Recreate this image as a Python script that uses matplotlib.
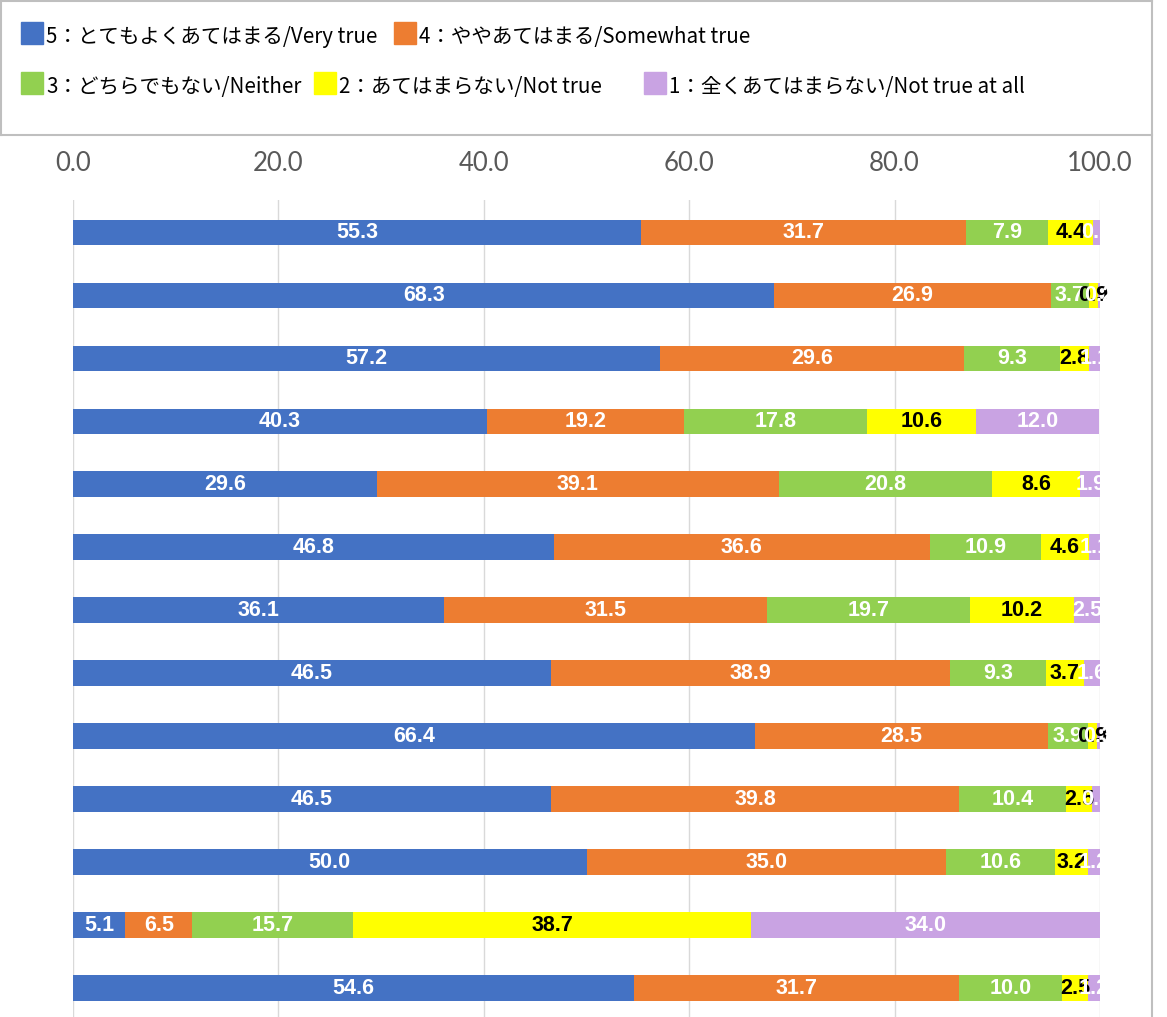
import matplotlib
matplotlib.use('Agg')
import matplotlib.pyplot as plt
from matplotlib.patches import Rectangle
from matplotlib.lines import Line2D
import numpy as np

plt.rcParams['font.family'] = ['Noto Sans CJK JP', 'DejaVu Sans']

# data (percent), one list per response level, rows top to bottom
series_names = [
    '5：とてもよくあてはまる/Very true',
    '4：ややあてはまる/Somewhat true',
    '3：どちらでもない/Neither',
    '2：あてはまらない/Not true',
    '1：全くあてはまらない/Not true at all',
]
very_true = [55.3, 68.3, 57.2, 40.3, 29.6, 46.8, 36.1, 46.5, 66.4, 46.5, 50.0, 5.1, 54.6]
somewhat_true = [31.7, 26.9, 29.6, 19.2, 39.1, 36.6, 31.5, 38.9, 28.5, 39.8, 35.0, 6.5, 31.7]
neither = [7.9, 3.7, 9.3, 17.8, 20.8, 10.9, 19.7, 9.3, 3.9, 10.4, 10.6, 15.7, 10.0]
not_true = [4.4, 0.9, 2.8, 10.6, 8.6, 4.6, 10.2, 3.7, 0.9, 2.5, 3.2, 38.7, 2.5]
not_true_at_all = [0.7, 0.2, 1.1, 12.0, 1.9, 1.1, 2.5, 1.6, 0.3, 0.8, 1.2, 34.0, 1.2]
x_ticks = [0, 20, 40, 60, 80, 100]

series = [very_true, somewhat_true, neither, not_true, not_true_at_all]
colors = ['#4472C4', '#ED7D31', '#92D050', '#FFFF00', '#C9A3E3']
label_colors = ['white', 'white', 'white', 'black', 'white']

W, H = 1167, 1017
fig = plt.figure(figsize=(W / 100, H / 100), dpi=100)
ax = fig.add_axes([73 / W, 0, 1027 / W, 817 / H])

y = np.arange(len(very_true))
left = np.zeros(len(very_true))
for vals, c, lc in zip(series, colors, label_colors):
    bars = ax.barh(y, vals, left=left, height=0.4, color=c, zorder=2)
    ax.bar_label(bars, labels=[f'{v:.1f}' for v in vals], label_type='center',
                 color=lc, fontsize=15.5, fontweight='bold', family='Liberation Sans', zorder=3)
    left += np.array(vals)

ax.set_xlim(0, 100)
ax.set_ylim(len(y) - 1 + 0.46, -0.51)
ax.set_xticks(x_ticks)
ax.set_xticklabels([f'{t:.1f}' for t in x_ticks], family='Lato')
ax.xaxis.tick_top()
ax.tick_params(axis='x', length=0, pad=17, labelsize=18.5, labelcolor='#595959')
ax.set_yticks([])
ax.grid(axis='x', color='#d9d9d9', linewidth=1, zorder=0)
ax.set_axisbelow(True)
for s in ax.spines.values():
    s.set_visible(False)


def fx(px):
    return px / W


def fy(py):
    return 1 - py / H


# chart frame
frame = '#BFBFBF'
fig.add_artist(Line2D([0, fx(1152)], [fy(1), fy(1)], color=frame, lw=1.5))
fig.add_artist(Line2D([0, fx(1152)], [fy(135), fy(135)], color=frame, lw=1.5))
fig.add_artist(Line2D([fx(1), fx(1)], [fy(1), fy(135)], color=frame, lw=1.5))
fig.add_artist(Line2D([fx(1152), fx(1152)], [0, fy(1)], color=frame, lw=1.5))

# legend
legend_pos = [(21, 33), (394, 33), (21, 83), (314, 83), (644, 83)]
for name, c, (lx, ly) in zip(series_names, colors, legend_pos):
    fig.add_artist(Rectangle((fx(lx), fy(ly + 11)), 22 / W, 22 / H,
                             transform=fig.transFigure, color=c))
    fig.text(fx(lx + 25), fy(ly + 4), name, fontsize=14.8, va='center', ha='left', color='black')

fig.savefig('out.png', dpi=100)
